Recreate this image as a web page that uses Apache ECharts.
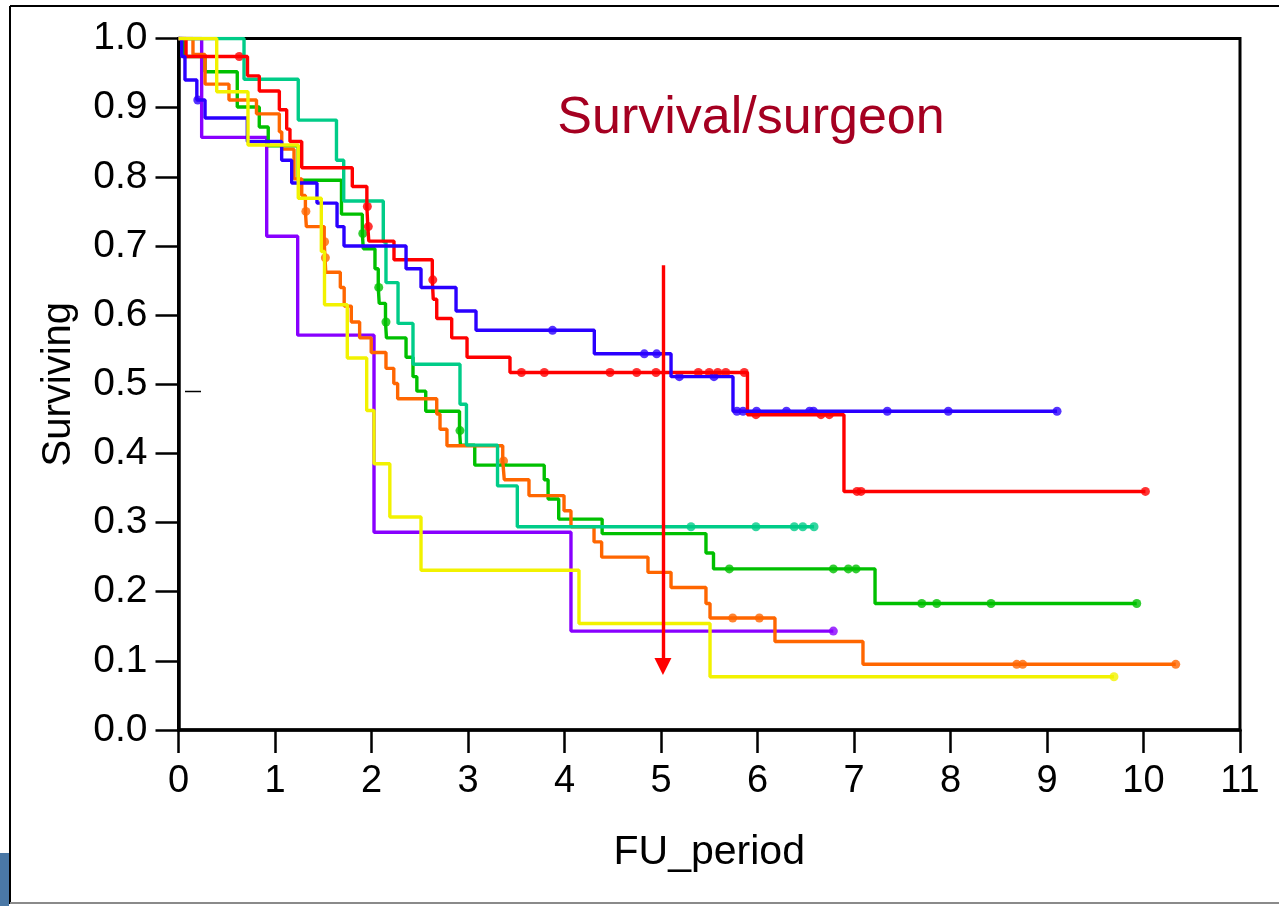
<!DOCTYPE html>
<html>
<head>
<meta charset="utf-8">
<script src="https://cdn.jsdelivr.net/npm/echarts@6/dist/echarts.min.js"></script>
<style>
  html, body { margin: 0; padding: 0; background: #fff; }
  #chart { width: 1279px; height: 906px; }
</style>
</head>
<body>
<div id="chart"></div>
<script>
// Kaplan-Meier survival per surgeon: event times (years) and survival after each event,
// plus censoring times drawn as dots on the curve.
const blueTime = [0.033, 0.067, 0.19, 0.275, 0.713, 1.069, 1.173, 1.435, 1.643, 1.715, 2.358, 2.513, 2.876, 3.083, 4.309, 5.104, 5.746];
const blueSurv = [0.974, 0.940, 0.911, 0.885, 0.851, 0.824, 0.791, 0.762, 0.728, 0.700, 0.667, 0.640, 0.606, 0.578, 0.544, 0.511, 0.461];
const blueCens = [0.20, 3.876, 4.827, 4.955, 5.19, 5.549, 5.787, 5.85, 5.99, 6.30, 6.54, 6.58, 7.345, 7.977, 9.104];

const redTime = [0.078, 0.715, 0.837, 1.045, 1.121, 1.155, 1.277, 1.801, 1.952, 1.962, 1.972, 2.233, 2.630, 2.640, 2.676, 2.831, 2.990, 3.435, 5.896, 6.896];
const redSurv = [0.974, 0.946, 0.924, 0.897, 0.869, 0.851, 0.813, 0.786, 0.757, 0.728, 0.707, 0.680, 0.651, 0.623, 0.595, 0.567, 0.539, 0.517, 0.456, 0.345];
const redCens = [0.63, 1.957, 1.967, 2.635, 3.554, 3.791, 4.472, 4.748, 4.948, 5.387, 5.50, 5.588, 5.671, 5.863, 5.984, 6.658, 6.744, 7.031, 7.073, 10.02];

const greenTime = [0.05, 0.275, 0.609, 0.837, 0.93, 1.24, 1.689, 1.905, 1.915, 2.036, 2.07, 2.08, 2.145, 2.155, 2.358, 2.43, 2.47, 2.562, 2.912, 2.922, 3.07, 3.79, 3.83, 3.94, 4.39, 5.466, 5.544, 7.218];
const greenSurv = [0.974, 0.952, 0.901, 0.872, 0.845, 0.795, 0.746, 0.718, 0.696, 0.667, 0.640, 0.617, 0.590, 0.567, 0.539, 0.511, 0.490, 0.461, 0.433, 0.412, 0.383, 0.362, 0.334, 0.305, 0.284, 0.256, 0.233, 0.183];
const greenCens = [1.91, 2.075, 2.15, 2.917, 5.708, 6.786, 6.941, 7.021, 7.702, 7.857, 8.42, 9.93];

const tealTime = [0.679, 1.241, 1.637, 1.712, 2.122, 2.15, 2.275, 2.43, 2.917, 2.984, 3.306, 3.511];
const tealSurv = [0.941, 0.882, 0.824, 0.765, 0.706, 0.647, 0.588, 0.529, 0.471, 0.412, 0.353, 0.294];
const tealCens = [5.311, 5.984, 6.381, 6.469, 6.586];

const orangeTime = [0.15, 0.275, 0.523, 0.808, 1.045, 1.07, 1.197, 1.277, 1.315, 1.325, 1.510, 1.518, 1.526, 1.677, 1.717, 1.791, 1.877, 1.997, 2.15, 2.231, 2.271, 2.676, 2.71, 2.782, 3.36, 3.376, 3.632, 3.995, 4.067, 4.306, 4.385, 4.865, 5.104, 5.466, 5.508, 6.181, 7.093];
const orangeSurv = [0.977, 0.934, 0.911, 0.891, 0.865, 0.840, 0.797, 0.773, 0.750, 0.728, 0.706, 0.683, 0.662, 0.640, 0.613, 0.590, 0.567, 0.546, 0.523, 0.501, 0.479, 0.457, 0.435, 0.411, 0.389, 0.362, 0.339, 0.317, 0.294, 0.272, 0.250, 0.228, 0.206, 0.183, 0.162, 0.128, 0.095];
const orangeCens = [1.32, 1.514, 1.522, 3.368, 5.743, 6.019, 8.686, 8.748, 10.334];

const yellowTime = [0.396, 0.72, 1.241, 1.48, 1.513, 1.749, 1.950, 2.026, 2.19, 2.513, 4.15, 5.508];
const yellowSurv = [0.923, 0.846, 0.769, 0.692, 0.615, 0.538, 0.462, 0.385, 0.308, 0.231, 0.154, 0.077];
const yellowCens = [9.694];

const purpleTime = [0.24, 0.914, 1.235, 2.026, 4.067];
const purpleSurv = [0.857, 0.714, 0.571, 0.286, 0.143];
const purpleCens = [6.786];

// Marker arrow at the 5-year point
const arrowTime = 5.02;
const arrowFrom = 0.672;
const arrowTo = 0.092;

const xTicks = [0, 11, 1];
const yTicks = [0, 1, 0.1];

const FONT = '"Liberation Sans", Arial, Helvetica, sans-serif';

function survivalAt(times, surv, t) {
  let s = 1;
  for (let i = 0; i < times.length; i++) { if (times[i] <= t) s = surv[i]; }
  return s;
}

function curve(times, surv, cens) {
  const pts = [[0, 1]];
  times.forEach((t, i) => pts.push([t, surv[i]]));
  const end = Math.max(times[times.length - 1], cens.length ? cens[cens.length - 1] : 0);
  pts.push([end, surv[surv.length - 1]]);
  return pts;
}

function kmSeries(name, color, times, surv, cens) {
  return [
    {
      name, type: 'line', step: 'end', data: curve(times, surv, cens),
      showSymbol: false, symbol: 'none',
      lineStyle: { color, width: 3.4 }, itemStyle: { color }
    },
    {
      name: name + ' censored', type: 'scatter', symbol: 'circle', symbolSize: 9,
      data: cens.map(t => [t, survivalAt(times, surv, t)]),
      itemStyle: { color }
    }
  ];
}

const series = [].concat(
  kmSeries('purple', '#8800ff', purpleTime, purpleSurv, purpleCens),
  kmSeries('green', '#00c000', greenTime, greenSurv, greenCens),
  kmSeries('orange', '#ff6600', orangeTime, orangeSurv, orangeCens),
  kmSeries('teal', '#00cc88', tealTime, tealSurv, tealCens),
  kmSeries('red', '#ff0000', redTime, redSurv, redCens),
  kmSeries('blue', '#2a00ff', blueTime, blueSurv, blueCens),
  kmSeries('yellow', '#f2f200', yellowTime, yellowSurv, yellowCens),
  [{
    type: 'lines', coordinateSystem: 'cartesian2d', z: 10,
    symbol: ['none', 'triangle'], symbolSize: [0, 17],
    lineStyle: { color: '#ff0000', width: 3.4, opacity: 1 },
    data: [{ coords: [[arrowTime, arrowFrom], [arrowTime, arrowTo]] }]
  }]
);

const chart = echarts.init(document.getElementById('chart'), null, { renderer: 'canvas' });
chart.setOption({
  animation: false,
  backgroundColor: '#ffffff',
  grid: {
    left: 178.5, right: 39, top: 38.5, bottom: 176,
    show: true, borderColor: '#000', borderWidth: 3, backgroundColor: 'transparent'
  },
  xAxis: {
    type: 'value', min: xTicks[0], max: xTicks[1], interval: xTicks[2],
    axisLine: { show: true, lineStyle: { color: '#000', width: 3.5 } },
    axisTick: { show: true, length: 23, lineStyle: { color: '#000', width: 2.5 } },
    axisLabel: { margin: 33, fontSize: 38, color: '#000', fontFamily: FONT },
    splitLine: { show: false },
    name: 'FU_period', nameLocation: 'middle', nameGap: 102,
    nameTextStyle: { fontSize: 41, color: '#000', fontFamily: FONT }
  },
  yAxis: {
    type: 'value', min: yTicks[0], max: yTicks[1], interval: yTicks[2],
    axisLine: { show: true, lineStyle: { color: '#000', width: 3.5 } },
    axisTick: { show: true, length: 23, lineStyle: { color: '#000', width: 2.5 } },
    axisLabel: { margin: 31, fontSize: 39, color: '#000', fontFamily: FONT, formatter: v => v.toFixed(1) },
    splitLine: { show: false },
    name: 'Surviving', nameLocation: 'middle', nameGap: 100,
    nameTextStyle: { fontSize: 40, color: '#000', fontFamily: FONT }
  },
  graphic: [
    { type: 'line', shape: { x1: 10, y1: 6, x2: 1279, y2: 6 }, style: { stroke: '#000', lineWidth: 2 } },
    { type: 'line', shape: { x1: 10, y1: 6, x2: 10, y2: 904 }, style: { stroke: '#000', lineWidth: 2 } },
    { type: 'line', shape: { x1: 10, y1: 903, x2: 1279, y2: 903 }, style: { stroke: '#8a8a8a', lineWidth: 2 } },
    { type: 'rect', shape: { x: 0, y: 853, width: 9, height: 53 }, style: { fill: '#4a78a6' } },
    { type: 'line', shape: { x1: 185, y1: 391.5, x2: 201, y2: 391.5 }, style: { stroke: '#000', lineWidth: 1.5 } },
    {
      type: 'text', x: 751, y: 119,
      style: { text: 'Survival/surgeon', fill: '#a50021', fontSize: 52, fontFamily: FONT, align: 'center', verticalAlign: 'middle' }
    }
  ],
  series
});
</script>
</body>
</html>
